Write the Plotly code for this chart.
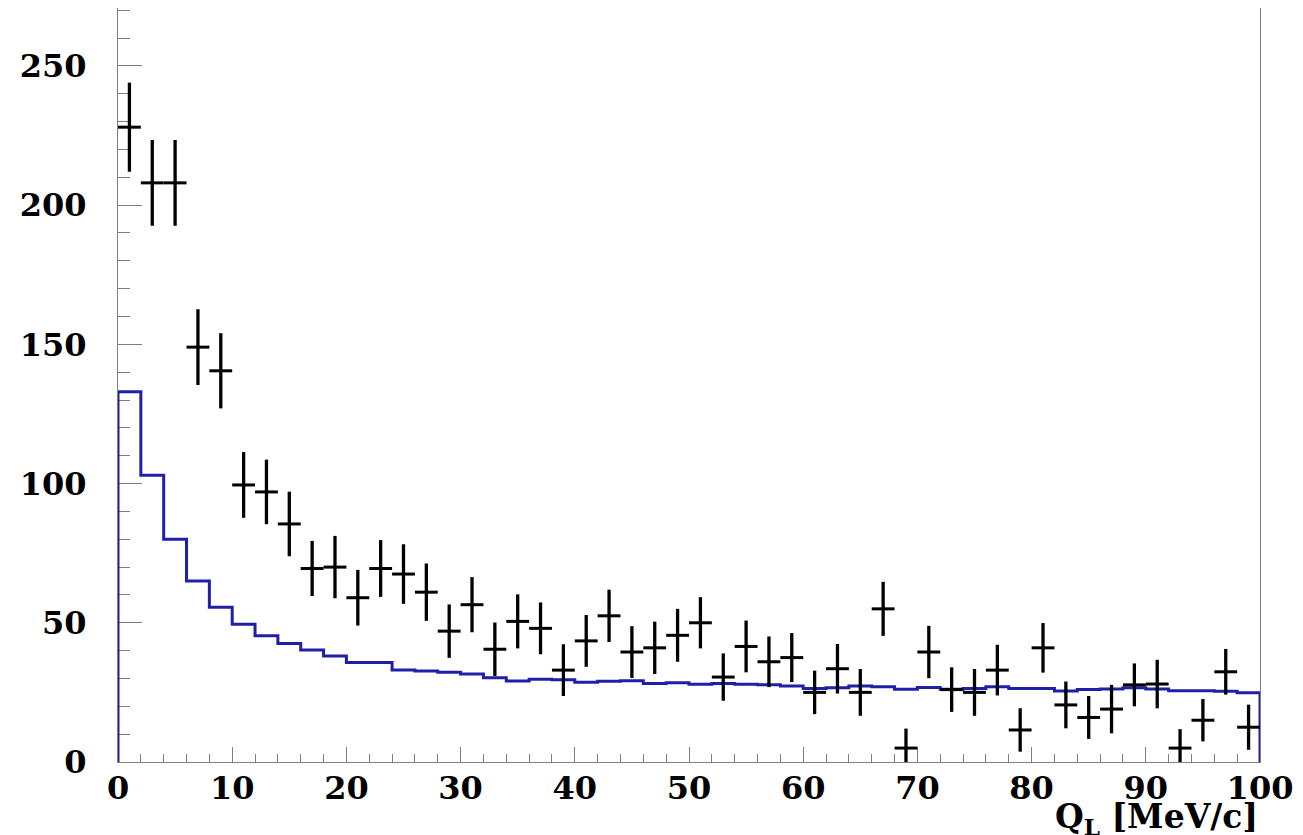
import plotly.graph_objects as go

# Data points (bin centres, counts, errors)
data_x = [1, 3, 5, 7, 9, 11, 13, 15, 17, 19, 21, 23, 25, 27, 29, 31, 33, 35, 37, 39,
          41, 43, 45, 47, 49, 51, 53, 55, 57, 59, 61, 63, 65, 67, 69, 71, 73, 75, 77, 79,
          81, 83, 85, 87, 89, 91, 93, 95, 97, 99]
data_y = [228, 208, 208, 149, 140.5, 99.5, 97, 85.5, 69.5, 70, 59, 69.5, 67.5, 61, 47,
          56.5, 40.5, 50.5, 48, 33, 43.5, 52.5, 39.5, 41, 45.5, 50, 30.5, 41.5, 36, 37.5,
          25, 33.5, 25, 55, 5, 39.5, 26, 25, 33, 11.5, 41, 20.5, 16, 19, 27.7, 28, 5, 15,
          32.4, 12.5]
data_err = [16, 15.4, 15.4, 13.6, 13.5, 11.8, 11.6, 11.6, 9.9, 11.2, 10, 10.2, 10.7, 10.3,
            9.6, 9.9, 9.6, 9.7, 9.3, 9.3, 9.3, 9.4, 9.3, 9.4, 9.5, 9.2, 8.5, 9.3, 9.1, 8.8,
            7.8, 8.9, 8.4, 9.7, 7, 9.4, 8, 8.4, 9.1, 7.8, 8.9, 8.4, 7.7, 8.7, 7.7, 8.7, 6.8,
            7.6, 8.2, 8.1]
bin_half_width = [1] * len(data_x)

# Simulation histogram (bin lower edges, contents)
mc_edges = [0, 2, 4, 6, 8, 10, 12, 14, 16, 18, 20, 22, 24, 26, 28, 30, 32, 34, 36, 38,
            40, 42, 44, 46, 48, 50, 52, 54, 56, 58, 60, 62, 64, 66, 68, 70, 72, 74, 76, 78,
            80, 82, 84, 86, 88, 90, 92, 94, 96, 98]
mc_y = [133, 103, 80, 65, 55.6, 49.5, 45.3, 42.6, 40.2, 38.1, 35.7, 35.7, 33, 32.7, 32.2,
        31.6, 30.3, 29.1, 29.7, 29.5, 28.6, 29, 29.2, 28.2, 28.5, 27.9, 28.2, 27.9, 27.7,
        27.3, 26.4, 26.7, 27.3, 27, 26.1, 26.8, 26.1, 26.4, 27, 26.4, 26.4, 25.5, 26,
        26.2, 26.7, 26.2, 25.6, 25.6, 25.4, 24.9]
x_upper = 100

x_ticks = [0, 10, 20, 30, 40, 50, 60, 70, 80, 90, 100]
y_ticks = [0, 50, 100, 150, 200, 250]

FONT = "DejaVu Serif"
FSIZE = 32

hist_x = [mc_edges[0]] + mc_edges + [x_upper, x_upper]
hist_y = [0] + mc_y + [mc_y[-1], 0]

fig = go.Figure()
fig.add_trace(go.Scatter(
    x=hist_x, y=hist_y, mode="lines", line=dict(color="#1f1fa8", width=3, shape="hv"),
    hoverinfo="skip", showlegend=False, cliponaxis=False,
))
fig.add_trace(go.Scatter(
    x=data_x, y=data_y, mode="markers",
    marker=dict(size=1, color="black"),
    error_y=dict(type="data", array=data_err, color="black", thickness=3.3, width=0),
    error_x=dict(type="data", array=bin_half_width, color="black", thickness=3, width=0),
    showlegend=False,
))

# page body adds an 8px offset; compensate with a slightly smaller figure
fig.update_layout(
    width=1295, height=827,
    margin=dict(l=110, r=43, t=0, b=73, autoexpand=False),
    paper_bgcolor="white", plot_bgcolor="white",
    font=dict(family=FONT, color="black"),
)
fig.update_xaxes(
    range=[0, 100], tickvals=x_ticks, ticktext=[str(v) for v in x_ticks],
    showgrid=False, zeroline=False,
    showline=True, linecolor="#7f7f7f", linewidth=1.2, mirror=True,
    ticks="inside", ticklen=15, tickcolor="#7f7f7f", tickwidth=1.2,
    minor=dict(dtick=2, ticks="inside", ticklen=8, tickcolor="#7f7f7f", tickwidth=1.2),
    tickfont=dict(family=FONT, size=FSIZE, weight="bold", color="black"),
    ticklabelstandoff=-3, layer="below traces", automargin=False,
)
fig.update_yaxes(
    range=[0, 270.8], tickvals=y_ticks, ticktext=[str(v) for v in y_ticks],
    showgrid=False, zeroline=False,
    showline=True, linecolor="#7f7f7f", linewidth=1.2, mirror=True,
    ticks="inside", ticklen=24, tickcolor="#7f7f7f", tickwidth=1.2,
    minor=dict(dtick=10, ticks="inside", ticklen=12, tickcolor="#7f7f7f", tickwidth=1.2),
    tickfont=dict(family=FONT, size=FSIZE, weight="bold", color="black"),
    ticklabelstandoff=24, layer="below traces", automargin=False,
)
fig.add_annotation(
    x=1, y=0, xref="paper", yref="paper", xanchor="right", yanchor="top",
    yshift=-33, showarrow=False,
    text="Q<sub>L</sub> [MeV/c]",
    font=dict(family=FONT, size=FSIZE + 1, weight="bold", color="black"),
)

fig.write_html("out.html")
